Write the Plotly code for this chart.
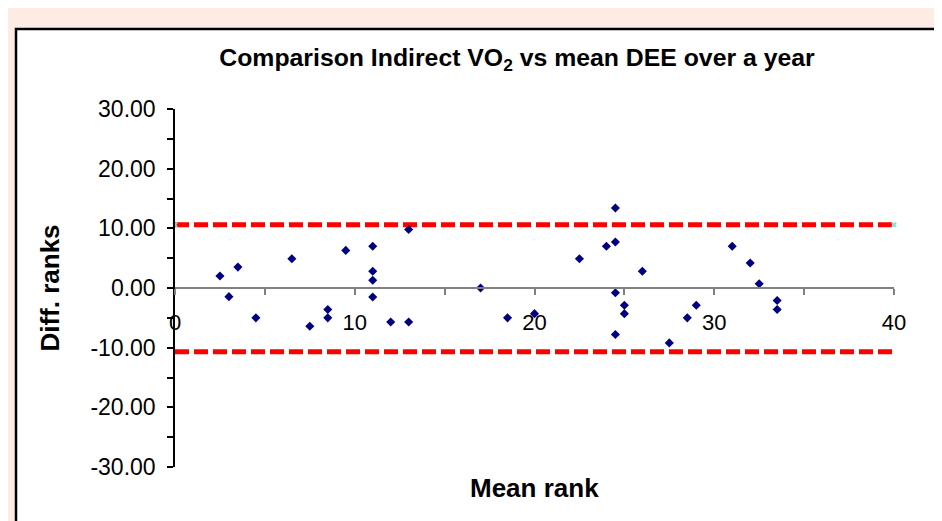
import plotly.graph_objects as go

# Bland-Altman style comparison of ranks
mean_rank = [2.5, 3.0, 3.5, 4.5, 6.5, 7.5, 8.5, 8.5, 9.5, 11.0, 11.0, 11.0, 11.0,
             12.0, 13.0, 13.0, 17.0, 18.5, 20.0, 22.5, 24.0, 24.5, 24.5, 24.5,
             24.5, 25.0, 25.0, 26.0, 27.5, 28.5, 29.0, 31.0, 32.0, 32.5, 33.5, 33.5]
diff_rank = [2.0, -1.45, 3.5, -5.0, 4.9, -6.4, -3.6, -5.0, 6.3, 7.0, 2.8, 1.3, -1.5,
             -5.7, -5.7, 9.8, 0.0, -5.0, -4.3, 4.9, 7.0, 7.7, 13.4, -0.8,
             -7.8, -2.9, -4.3, 2.8, -9.2, -5.0, -2.9, 7.0, 4.2, 0.7, -2.1, -3.6]

limit_x = [0, 40]
upper_limit = [10.6, 10.6]
lower_limit = [-10.7, -10.7]

y_ticks = [-30, -20, -10, 0, 10, 20, 30]
y_tick_labels = ["-30.00", "-20.00", "-10.00", "0.00", "10.00", "20.00", "30.00"]

# ── page geometry (pixels of the 942x521 window) ─────────────────────────────
OFF = 8                      # body margin of the html page
W, H = 942 - OFF, 521 - OFF
LEFT, RIGHT, TOP, BOTTOM = 175, 894, 109, 467   # plot area in window pixels
ML, MT = LEFT - OFF, TOP - OFF
MR, MB = W - (RIGHT - OFF), H - (BOTTOM - OFF)
PW, PH = RIGHT - LEFT, BOTTOM - TOP


def fx(px):
    return (px - LEFT) / PW


def fy(py):
    return (BOTTOM - py) / PH


FONT = "Arial, Liberation Sans, sans-serif"
PEACH = "#FDECE3"

fig = go.Figure()

for lim in (upper_limit, lower_limit):
    fig.add_trace(go.Scatter(
        x=limit_x, y=lim, mode="lines",
        line=dict(color="#FF0000", width=5, dash="14px,5px"),
        hoverinfo="skip", showlegend=False,
    ))

fig.add_trace(go.Scatter(
    x=limit_x, y=upper_limit, mode="markers",
    marker=dict(symbol="x", size=5, color="#7FE0E0"),
    cliponaxis=False, hoverinfo="skip", showlegend=False,
))

fig.add_trace(go.Scatter(
    x=mean_rank, y=diff_rank, mode="markers",
    marker=dict(symbol="diamond", size=7, color="#000080"),
    cliponaxis=False, showlegend=False,
    hovertemplate="Mean rank: %{x}<br>Diff.: %{y:.2f}<extra></extra>",
))

fig.update_layout(
    width=W, height=H,
    margin=dict(l=ML, r=MR, t=MT, b=MB, pad=0),
    paper_bgcolor="white",
    plot_bgcolor="white",
    font=dict(family=FONT, color="black"),
    title=dict(
        text="<b>Comparison Indirect VO<sub>2</sub> vs mean DEE over a year</b>",
        font=dict(size=24.8, family=FONT),
        x=(517 - OFF) / W, xanchor="center", y=1 - (57 - OFF) / H, yanchor="middle",
    ),
    xaxis=dict(
        range=[0, 40], anchor="free", position=0.5,
        showline=True, linecolor="#808080", linewidth=1.5,
        showgrid=False, zeroline=False,
        ticks="outside", ticklen=6, tickcolor="#808080", tickwidth=1.5,
        tick0=0, dtick=10,
        minor=dict(ticks="outside", dtick=5, ticklen=6, tickcolor="#808080", tickwidth=1.5),
        tickfont=dict(size=22), ticklabelstandoff=9,
    ),
    yaxis=dict(
        range=[-30, 30],
        showline=True, linecolor="black", linewidth=1.5,
        showgrid=False, zeroline=False,
        ticks="outside", ticklen=6, tickcolor="black", tickwidth=1.5,
        tickvals=y_ticks, ticktext=y_tick_labels,
        minor=dict(ticks="outside", dtick=5, ticklen=6, tickcolor="black", tickwidth=1.5),
        tickfont=dict(size=23), ticklabelstandoff=7,
        title=dict(text="<b>Diff. ranks</b>", font=dict(size=26), standoff=23),
    ),
    shapes=[
        dict(type="rect", xref="paper", yref="paper", layer="below",
             x0=fx(3), x1=fx(W + 20), y0=fy(H + 20), y1=fy(7),
             fillcolor=PEACH, line=dict(width=0)),
        dict(type="rect", xref="paper", yref="paper", layer="below",
             x0=fx(16), x1=fx(W + 20), y0=fy(H + 20), y1=fy(29),
             fillcolor="white", line=dict(color="black", width=2.5)),
    ],
    annotations=[
        dict(text="<b>Mean rank</b>", xref="paper", yref="paper",
             x=0.5, y=fy(488), xanchor="center", yanchor="middle",
             showarrow=False, font=dict(size=26)),
    ],
)

fig.write_html("out.html")
